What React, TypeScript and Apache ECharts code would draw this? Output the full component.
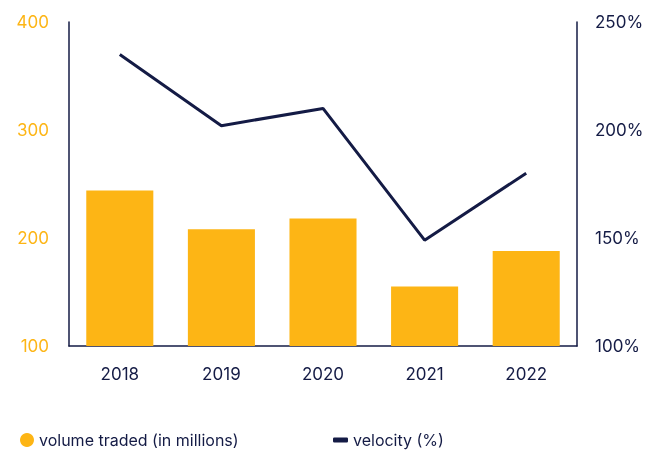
import React, { useEffect, useRef } from "react";
import * as echarts from "echarts";

const categories = ["2018", "2019", "2020", "2021", "2022"];
const volumeTraded = [244, 208, 218, 155, 188];
const velocity = [235, 202, 210, 149, 180];
const leftTicks = { min: 100, max: 400, interval: 100 };
const rightTicks = { min: 100, max: 250, interval: 50 };

const NAVY = "#141b45";
const GOLD = "#fdb515";
const FONT = "Inter, 'Noto Sans', sans-serif";

export default function App() {
  const ref = useRef<HTMLDivElement>(null);
  useEffect(() => {
    if (!ref.current) return;
    const chart = echarts.init(ref.current, undefined, { renderer: "svg" });
    chart.setOption({
      animation: false,
      textStyle: { fontFamily: FONT },
      grid: { left: 69, right: 79, top: 22, bottom: 104 },
      legend: [
        {
          data: [{ name: "volume traded (in millions)", icon: "circle" }],
          left: 20,
          top: 432,
          padding: 0,
          itemWidth: 14,
          itemHeight: 14,
          itemGap: 8,
          textStyle: { color: NAVY, fontSize: 16, fontFamily: FONT },
        },
        {
          data: [{ name: "velocity (%)", icon: "roundRect" }],
          left: 333,
          top: 432,
          padding: 0,
          itemWidth: 15,
          itemHeight: 5,
          textStyle: { color: NAVY, fontSize: 16, fontFamily: FONT },
        },
      ],
      xAxis: {
        type: "category",
        data: categories,
        axisLine: { show: true, lineStyle: { color: NAVY, width: 1.5 } },
        axisTick: { show: false },
        axisLabel: { color: NAVY, fontSize: 17, margin: 19, fontFamily: FONT },
      },
      yAxis: [
        {
          type: "value",
          min: leftTicks.min,
          max: leftTicks.max,
          interval: leftTicks.interval,
          axisLine: { show: true, lineStyle: { color: NAVY, width: 1.5 } },
          axisTick: { show: false },
          splitLine: { show: false },
          axisLabel: { color: GOLD, fontSize: 17, margin: 20, fontFamily: FONT },
        },
        {
          type: "value",
          min: rightTicks.min,
          max: rightTicks.max,
          interval: rightTicks.interval,
          position: "right",
          axisLine: { show: true, lineStyle: { color: NAVY, width: 1.5 } },
          axisTick: { show: false },
          splitLine: { show: false },
          axisLabel: { color: NAVY, fontSize: 17, margin: 18, formatter: "{value}%", fontFamily: FONT },
        },
      ],
      series: [
        {
          name: "volume traded (in millions)",
          type: "bar",
          yAxisIndex: 0,
          data: volumeTraded,
          barWidth: "66%",
          itemStyle: { color: GOLD },
        },
        {
          name: "velocity (%)",
          type: "line",
          yAxisIndex: 1,
          data: velocity,
          symbol: "none",
          lineStyle: { color: NAVY, width: 3 },
          itemStyle: { color: NAVY },
        },
      ],
    });
    return () => chart.dispose();
  }, []);
  return (
    <div
      ref={ref}
      style={{ position: "fixed", left: 0, top: 0, width: 656, height: 450 }}
    />
  );
}
